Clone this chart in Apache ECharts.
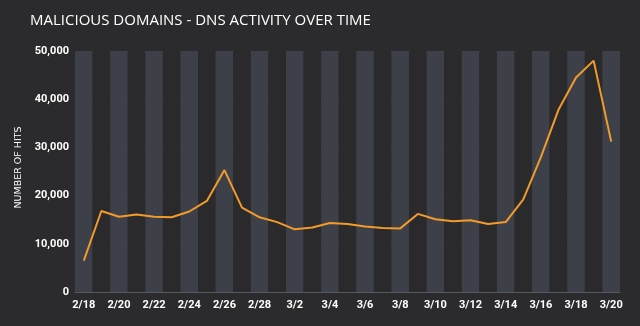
<!DOCTYPE html>
<html>
<head>
<meta charset="utf-8">
<script src="https://cdn.jsdelivr.net/npm/echarts@6/dist/echarts.min.js"></script>
<style>
  html, body { margin: 0; padding: 0; background: #2b2b2d; }
  #app { width: 640px; height: 326px; }
</style>
</head>
<body>
<div id="app"></div>
<script>
const days = [
  "2/18", "2/19", "2/20", "2/21", "2/22", "2/23", "2/24", "2/25", "2/26", "2/27", "2/28",
  "3/1", "3/2", "3/3", "3/4", "3/5", "3/6", "3/7", "3/8", "3/9", "3/10",
  "3/11", "3/12", "3/13", "3/14", "3/15", "3/16", "3/17", "3/18", "3/19", "3/20"
];
const hits = [
  6500, 16800, 15600, 16100, 15600, 15500, 16700, 18900, 25300, 17500, 15500,
  14500, 13000, 13400, 14300, 14100, 13600, 13300, 13200, 16200, 15100,
  14700, 14900, 14100, 14500, 19200, 28000, 37800, 44500, 48000, 31200
];

const myChart = echarts.init(document.getElementById("app"));

const option = {
  backgroundColor: "#2b2b2d",
  animation: false,
  title: {
    text: "MALICIOUS DOMAINS - DNS ACTIVITY OVER TIME",
    left: 25,
    top: 8,
    textStyle: {
      color: "#ffffff",
      fontFamily: "Open Sans",
      fontWeight: "normal",
      fontSize: 15,
    },
  },
  grid: {
    left: 75,
    right: 20,
    top: 51,
    bottom: 34,
  },
  xAxis: {
    type: "category",
    data: days,
    boundaryGap: true,
    axisLine: { lineStyle: { color: "#55585e" } },
    axisTick: { show: false },
    axisLabel: {
      interval: 1,
      color: "#ffffff",
      fontWeight: "bold",
      fontSize: 11,
      fontFamily: "Roboto",
      margin: 8,
    },
    splitArea: {
      show: true,
      interval: 0,
      areaStyle: { color: ["#3d4048", "#2a2a2c"] },
    },
  },
  yAxis: {
    type: "value",
    min: 0,
    max: 50000,
    interval: 10000,
    name: "NUMBER OF HITS",
    nameLocation: "middle",
    nameGap: 48,
    nameTextStyle: {
      color: "#ffffff",
      fontSize: 9.5,
      fontFamily: "DejaVu Sans",
      padding: [0, 0, 0, 8],
    },
    axisLine: { show: false },
    axisTick: { show: false },
    axisLabel: {
      color: "#ffffff",
      fontWeight: "bold",
      fontSize: 11,
      fontFamily: "Roboto",
      margin: 6,
      formatter: function (v) {
        return v.toLocaleString("en-US");
      },
    },
    splitLine: { lineStyle: { color: "#5a5d63", width: 1 } },
  },
  series: [
    {
      name: "hits",
      type: "line",
      data: hits,
      showSymbol: false,
      lineStyle: { color: "#f29b2a", width: 2 },
      itemStyle: { color: "#f29b2a" },
    },
  ],
};
myChart.setOption(option);
</script>
</body>
</html>
